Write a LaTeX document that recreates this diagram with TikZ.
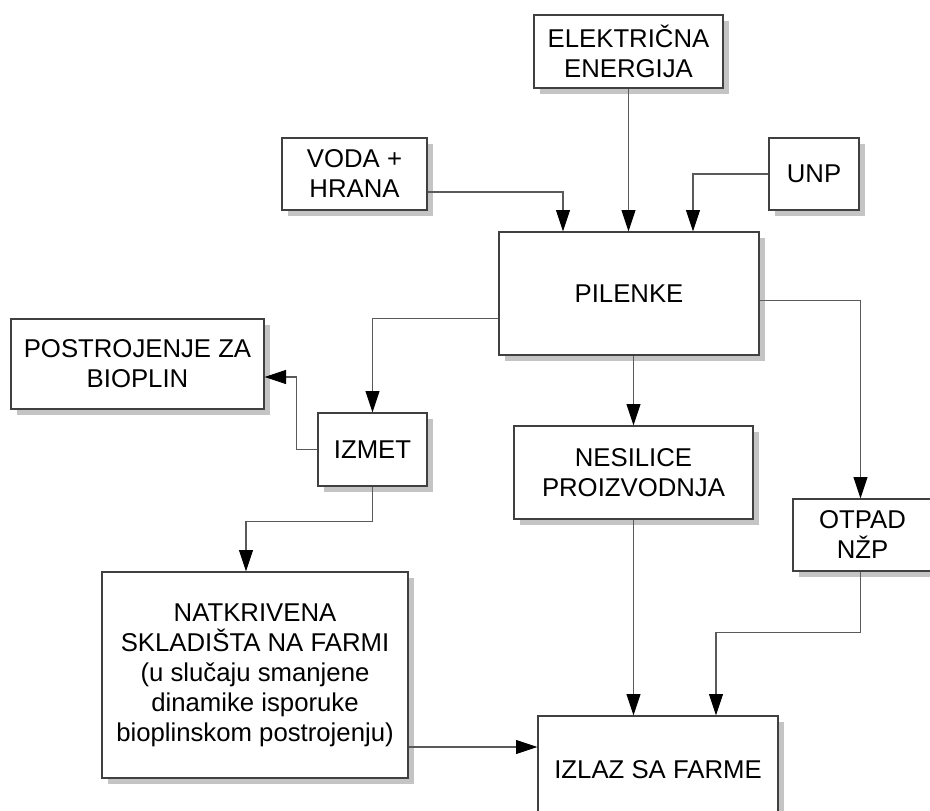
\documentclass[tikz,border=0pt]{standalone}
\usepackage{fontspec}
\setmainfont{Liberation Sans}
\usetikzlibrary{arrows.meta,shadows}
\begin{document}
\begin{tikzpicture}[x=0.75pt,y=-0.75pt]
	\tikzstyle{every node}=[font=\fontsize{19.3}{22.5}\selectfont, align=center, inner sep=0pt]
	\tikzstyle{blok}=[draw={rgb,255:red,64; green,64; blue,64}, line width=1pt, fill=white,
		drop shadow={shadow xshift=4.5pt, shadow yshift=-4.5pt, fill={rgb,255:red,196; green,196; blue,196}, opacity=1}]
	\tikzstyle{tok}=[draw={rgb,255:red,90; green,90; blue,90}, line width=0.8pt, -{Triangle[length=16pt,width=10.5pt,color=black]}]
	\useasboundingbox (0,0) rectangle (930,810);
	% ulazi
	\node [blok, minimum width=189*0.75pt, minimum height=73*0.75pt] (elek) at (628.5,51.5) {ELEKTRIČNA\\ENERGIJA};
	\node [blok, minimum width=145*0.75pt, minimum height=72*0.75pt] (voda) at (354.5,174) {VODA +\\HRANA};
	\node [blok, minimum width=90*0.75pt, minimum height=72*0.75pt] (unp) at (814,174) {UNP};
	\node [blok, minimum width=260*0.75pt, minimum height=123*0.75pt] (pilenke) at (629,293.5) {PILENKE};
	% izlazi
	\node [blok, minimum width=253*0.75pt, minimum height=90*0.75pt] (bioplin) at (137.5,364) {POSTROJENJE ZA\\BIOPLIN};
	\node [blok, minimum width=109*0.75pt, minimum height=73*0.75pt] (izmet) at (372.5,449.5) {IZMET};
	\node [blok, minimum width=239*0.75pt, minimum height=93*0.75pt] (nesilice) at (633.5,472.5) {NESILICE\\PROIZVODNJA};
	\node [blok, minimum width=139*0.75pt, minimum height=72*0.75pt] (otpad) at (862.5,535) {OTPAD\\NŽP};
	\node [blok, minimum width=306*0.75pt, minimum height=206*0.75pt] (natk) at (255,675) {NATKRIVENA\\SKLADIŠTA NA FARMI\\(u slučaju smanjene\\dinamike isporuke\\bioplinskom postrojenju)};
	\node [blok, minimum width=240*0.75pt, minimum height=124*0.75pt] (izlaz) at (658,778) {\raisebox{12pt}{IZLAZ SA FARME}};
	\coordinate (p1) at ([xshift=-49.5pt]pilenke.north);
	\coordinate (p3) at ([xshift=48pt]pilenke.north);
	% tokovi
	\draw [tok] (elek.south) -- (elek.south |- pilenke.north);
	\draw [tok] ([yshift=-13.5pt]voda.east) -| (p1);
	\draw [tok] (unp.west) -| (p3);
	\draw [tok] ([yshift=-19pt]pilenke.west) -| (izmet.north);
	\draw [tok] (izmet.west) -- ++(-21,0) |- ([yshift=-9.75pt]bioplin.east);
	\draw [tok] (izmet.south) -- ++(0,35) -| ([xshift=-6.75pt]natk.north);
	\draw [tok] (nesilice.north |- pilenke.south) -- (nesilice.north);
	\draw [tok] ([yshift=-4.9pt]pilenke.east) -| ([xshift=-1.5pt]otpad.north);
	\draw [tok] (nesilice.south) -- (nesilice.south |- izlaz.north);
	\draw [tok] ([xshift=-1.5pt]otpad.south) -- ++(0,61) -| ([xshift=43.5pt]izlaz.north);
	\draw [tok] ([yshift=-54pt]natk.east) -- ([yshift=-54pt]natk.east -| izlaz.west);
\end{tikzpicture}
\end{document}
